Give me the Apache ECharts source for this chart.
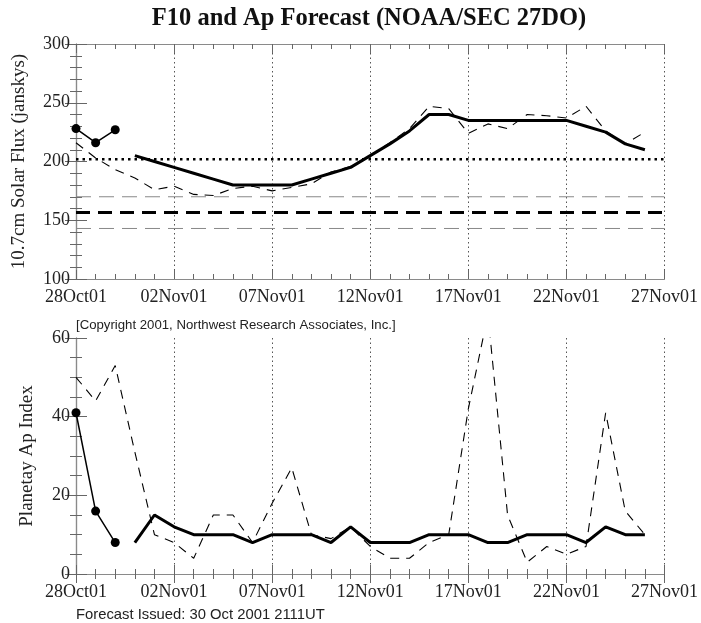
<!DOCTYPE html>
<html>
<head>
<meta charset="utf-8">
<script src="https://cdn.jsdelivr.net/npm/echarts@6/dist/echarts.min.js"></script>
<style>
html,body{margin:0;padding:0;background:#fff;}
#chart{width:701px;height:623px;}
</style>
</head>
<body>
<div id="chart"></div>
<script>
// Tick labels (one every 5 days, day 0 = 28Oct01)
var xTickLabels = ['28Oct01','02Nov01','07Nov01','12Nov01','17Nov01','22Nov01','27Nov01'];

// F10 (10.7cm solar flux)
var f10ObsDays = [0, 1, 2];
var f10Obs = [228, 216, 227];
var f10FcstDays = [3,4,5,6,7,8,9,10,11,12,13,14,15,16,17,18,19,20,21,22,23,24,25,26,27,28,29];
var f10Fcst = [205,200,195,190,185,180,180,180,180,185,190,195,205,215,226,240,240,235,235,235,235,235,235,230,225,215,210];
var f10PrevDays = [0,1,2,3,4,5,6,7,8,9,10,11,12,13,14,15,16,17,18,19,20,21,22,23,24,25,26,27,28,29];
var f10Prev = [216,203,193,186,176,179,172,171,177,179,175,178,181,191,196,205,216,228,247,245,224,232,228,240,239,237,247,226,215,225];
var f10Mean = 202;
var f10Base = 156.5;
var f10BandHigh = 170;
var f10BandLow = 143;

// Ap index
var apObsDays = [0, 1, 2];
var apObs = [41, 16, 8];
var apFcstDays = f10FcstDays;
var apFcst = [8,15,12,10,10,10,8,10,10,10,8,12,8,8,8,10,10,10,8,8,10,10,10,8,12,10,10];
var apPrevDays = f10PrevDays;
var apPrev = [50,44,53,31,10,8,4,15,15,8,18,27,10,9,12,7,4,4,8,10,42,66,15,3,7,5,7,41,16,10];

var xRange = [0, 30];

function zip(xs, ys){ return xs.map(function(x,i){ return [x, ys[i]]; }); }
function hline(v){ return [[xRange[0], v],[xRange[1], v]]; }

var serif = 'Liberation Serif';
var frameColor = '#8a8a8a';
var tickColor = '#666';

function xAxisDef(gridIndex, pos, showLabels){
  return {
    type:'value', gridIndex:gridIndex, position:pos, min:xRange[0], max:xRange[1], interval:5,
    axisLine:{show:true, lineStyle:{color:frameColor, width:1.2}},
    axisTick:{show:true, inside:true, length:9, lineStyle:{color:tickColor}},
    minorTick:{show:true, splitNumber:5, length:5, lineStyle:{color:tickColor}},
    splitLine:{show: pos==='bottom', lineStyle:{color:'#555', width:1, type:[1.5,3]}},
    axisLabel:{show:showLabels, margin:9, fontFamily:serif, fontSize:18, color:'#222',
      formatter:function(v){ return xTickLabels[Math.round(v/5)] || ''; }}
  };
}
function yAxisDef(gridIndex, pos, min, max, interval, minorSplit, showLabels, name, nameGap){
  return {
    type:'value', gridIndex:gridIndex, position:pos, min:min, max:max, interval:interval,
    name: name || '', nameLocation:'middle', nameGap: nameGap || 0, nameRotate:90,
    nameTextStyle:{fontFamily:serif, fontSize:19, color:'#222'},
    axisLine:{show:true, lineStyle:{color:frameColor, width:1.2}},
    axisTick:{show:true, inside:true, length:11, lineStyle:{color:tickColor}},
    minorTick:{show:true, splitNumber:minorSplit, length:6, lineStyle:{color:tickColor}},
    splitLine:{show:false},
    axisLabel:{show:showLabels, margin:6, fontFamily:serif, fontSize:18, color:'#222'}
  };
}

var chart = echarts.init(document.getElementById('chart'), null, {renderer:'canvas'});
var option = {
  animation:false,
  backgroundColor:'#fff',
  grid:[
    {left:76, top:44, width:591, height:235},
    {left:76, top:338, width:591, height:236}
  ],
  xAxis:[
    xAxisDef(0,'bottom',true), xAxisDef(0,'top',false),
    xAxisDef(1,'bottom',true), xAxisDef(1,'top',false)
  ],
  yAxis:[
    yAxisDef(0,'left',100,300,50,5,true,'10.7cm Solar Flux (janskys)',47),
    yAxisDef(0,'right',100,300,50,5,false),
    yAxisDef(1,'left',0,60,20,4,true,'Planetay Ap Index',39),
    yAxisDef(1,'right',0,60,20,4,false)
  ],
  graphic:[
    {type:'text', style:{text:'F10 and Ap Forecast (NOAA/SEC 27DO)', x:369, y:19, textAlign:'center', textVerticalAlign:'middle', font:'bold 24.5px "Liberation Serif"', fill:'#111'}},
    {type:'text', style:{text:'[Copyright 2001, Northwest Research Associates, Inc.]', x:76, y:325, textAlign:'left', textVerticalAlign:'middle', font:'13.2px "Liberation Sans"', fill:'#222'}},
    {type:'text', style:{text:'Forecast Issued: 30 Oct 2001 2111UT', x:76, y:615, textAlign:'left', textVerticalAlign:'middle', font:'14.8px "Liberation Sans"', fill:'#222'}}
  ],
  series:[
    {type:'line', xAxisIndex:0, yAxisIndex:0, data:hline(f10BandHigh), symbol:'none', lineStyle:{color:'#888', width:1, type:[15,8]}, z:1},
    {type:'line', xAxisIndex:0, yAxisIndex:0, data:hline(f10BandLow), symbol:'none', lineStyle:{color:'#888', width:1, type:[15,8]}, z:1},
    {type:'line', xAxisIndex:0, yAxisIndex:0, data:hline(f10Base), symbol:'none', lineStyle:{color:'#000', width:3, type:[14,8]}, z:2},
    {type:'line', xAxisIndex:0, yAxisIndex:0, data:hline(f10Mean), symbol:'none', lineStyle:{color:'#000', width:2.5, type:[2.5,4]}, z:2},
    {type:'line', xAxisIndex:0, yAxisIndex:0, data:zip(f10PrevDays,f10Prev), symbol:'none', lineStyle:{color:'#000', width:1.1, type:[9,7]}, z:3},
    {type:'line', xAxisIndex:0, yAxisIndex:0, data:zip(f10FcstDays,f10Fcst), symbol:'none', lineStyle:{color:'#000', width:3}, z:4},
    {type:'line', xAxisIndex:0, yAxisIndex:0, data:zip(f10ObsDays,f10Obs), symbol:'circle', symbolSize:9, itemStyle:{color:'#000'}, lineStyle:{color:'#000', width:1.5}, z:5},

    {type:'line', xAxisIndex:2, yAxisIndex:2, data:zip(apPrevDays,apPrev), symbol:'none', lineStyle:{color:'#000', width:1.1, type:[9,7]}, z:3},
    {type:'line', xAxisIndex:2, yAxisIndex:2, data:zip(apFcstDays,apFcst), symbol:'none', lineStyle:{color:'#000', width:3}, z:4},
    {type:'line', xAxisIndex:2, yAxisIndex:2, data:zip(apObsDays,apObs), symbol:'circle', symbolSize:9, itemStyle:{color:'#000'}, lineStyle:{color:'#000', width:1.5}, z:5}
  ]
};
chart.setOption(option);
</script>
</body>
</html>
